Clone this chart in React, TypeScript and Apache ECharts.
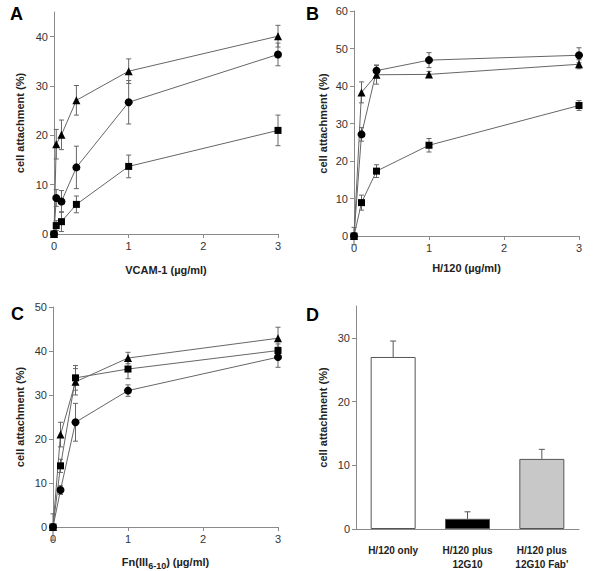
import React, { useEffect, useRef } from "react";
import * as echarts from "echarts";

// Panel A: VCAM-1
const xA = [0, 0.03, 0.1, 0.3, 1, 3];
const aTriangle = [0, 18.2, 20.1, 27.1, 33.0, 40.1];
const aTriangleErr = [0, 3.0, 3.0, 3.0, 2.5, 2.2];
const aCircle = [0, 7.3, 6.6, 13.5, 26.7, 36.4];
const aCircleErr = [0, 1.7, 2.2, 4.3, 4.4, 2.3];
const aSquare = [0, 1.7, 2.5, 6.0, 13.7, 21.0];
const aSquareErr = [0, 1.0, 2.0, 1.7, 2.3, 3.1];

// Panel B: H/120
const xB = [0, 0.1, 0.3, 1, 3];
const bCircle = [0, 27.1, 44.1, 46.9, 48.2];
const bCircleErr = [0, 1.8, 1.5, 2.0, 2.0];
const bTriangle = [0, 38.3, 43.0, 43.1, 45.8];
const bTriangleErr = [2.3, 2.8, 2.5, 0.8, 1.2];
const bSquare = [0, 8.9, 17.3, 24.2, 34.8];
const bSquareErr = [0, 2.0, 1.7, 1.8, 1.3];

// Panel C: Fn(III6-10)
const xC = [0, 0.1, 0.3, 1, 3];
const cTriangle = [0, 21.0, 33.0, 38.4, 42.9];
const cTriangleErr = [3.0, 2.8, 3.0, 1.3, 2.5];
const cSquare = [0, 13.9, 33.9, 35.9, 40.1];
const cSquareErr = [0, 1.5, 2.8, 2.2, 1.5];
const cCircle = [0, 8.4, 23.8, 31.0, 38.6];
const cCircleErr = [0, 1.0, 4.3, 1.3, 2.3];

// Panel D: bars
const dCategories = ["H/120 only", "H/120 plus\n12G10", "H/120 plus\n12G10 Fab'"];
const dValues = [27.0, 1.6, 11.0];
const dErr = [2.5, 1.1, 1.5];
const dColors = ["#ffffff", "#000000", "#c8c8c8"];

const FONT = "Liberation Sans, Arial, sans-serif";
const AXIS_COLOR = "#8a8a8a";
const LABEL_COLOR = "#333";
const ERR_COLOR = "#666";

function zip(xs: number[], ys: number[]) {
  return xs.map((x, i) => [x, ys[i]]);
}
function zip3(xs: number[], ys: number[], es: number[]) {
  return xs.map((x, i) => [x, ys[i], es[i]]);
}

function errRender(params: any, api: any) {
  const x = api.value(0);
  const y = api.value(1);
  const e = api.value(2);
  if (!e || e <= 0) return null;
  const top = api.coord([x, y + e]);
  const bot = api.coord([x, y - e]);
  const w = 2.5;
  const style = { stroke: ERR_COLOR, lineWidth: 1 };
  return {
    type: "group",
    children: [
      { type: "line", shape: { x1: top[0], y1: top[1], x2: bot[0], y2: bot[1] }, style },
      { type: "line", shape: { x1: top[0] - w, y1: top[1], x2: top[0] + w, y2: top[1] }, style },
      { type: "line", shape: { x1: bot[0] - w, y1: bot[1], x2: bot[0] + w, y2: bot[1] }, style },
    ],
  };
}

function barErrRender(params: any, api: any) {
  const x = api.value(0);
  const y = api.value(1);
  const e = api.value(2);
  const top = api.coord([x, y + e]);
  const base = api.coord([x, y]);
  const w = 3;
  const style = { stroke: "#555", lineWidth: 1 };
  return {
    type: "group",
    children: [
      { type: "line", shape: { x1: top[0], y1: top[1], x2: base[0], y2: base[1] }, style },
      { type: "line", shape: { x1: top[0] - w, y1: top[1], x2: top[0] + w, y2: top[1] }, style },
    ],
  };
}

function lineSeries(idx: number, symbol: string, size: number, data: number[][]) {
  return {
    type: "line",
    xAxisIndex: idx,
    yAxisIndex: idx,
    data,
    symbol,
    symbolSize: size,
    showAllSymbol: true,
    lineStyle: { color: "#666", width: 1 },
    itemStyle: { color: "#000" },
    z: 3,
  };
}

function errSeries(idx: number, data: number[][]) {
  return {
    type: "custom",
    xAxisIndex: idx,
    yAxisIndex: idx,
    renderItem: errRender,
    data,
    encode: { x: 0, y: 1 },
    z: 2,
  };
}

function valueX(idx: number, name: any, gap: number) {
  return {
    type: "value",
    gridIndex: idx,
    min: 0,
    max: 3,
    interval: 1,
    name,
    nameLocation: "middle",
    nameGap: gap,
    nameTextStyle: { fontFamily: FONT, fontWeight: "bold", fontSize: 11, color: "#222" },
    axisLine: { show: true, lineStyle: { color: AXIS_COLOR } },
    axisTick: { show: true, length: 4, lineStyle: { color: AXIS_COLOR } },
    axisLabel: { fontFamily: FONT, fontSize: 11, color: LABEL_COLOR, margin: 6 },
    splitLine: { show: false },
  };
}

function valueY(idx: number, max: number, ticks: number[], gap: number) {
  return {
    type: "value",
    gridIndex: idx,
    min: 0,
    max,
    interval: 10,
    name: "cell attachment (%)",
    nameLocation: "middle",
    nameGap: gap,
    nameTextStyle: { fontFamily: FONT, fontWeight: "bold", fontSize: 11, color: "#222" },
    axisLine: { show: true, lineStyle: { color: AXIS_COLOR } },
    axisTick: { show: true, length: 4, lineStyle: { color: AXIS_COLOR }, customValues: ticks },
    axisLabel: { fontFamily: FONT, fontSize: 11, color: LABEL_COLOR, margin: 6, customValues: ticks },
    splitLine: { show: false },
  };
}

export default function App() {
  const ref = useRef<HTMLDivElement>(null);
  useEffect(() => {
    if (!ref.current) return;
    const chart = echarts.init(ref.current, undefined, { renderer: "svg" });
    const panelLetter = (text: string, left: number, top: number) => ({
      type: "text",
      left,
      top,
      style: { text, font: `bold 18px ${FONT}`, fill: "#000" },
    });
    chart.setOption({
      animation: false,
      backgroundColor: "#fff",
      graphic: [
        panelLetter("A", 10, 5),
        panelLetter("B", 306, 5),
        panelLetter("C", 11, 305),
        panelLetter("D", 306, 306),
      ],
      grid: [
        { left: 54, top: 12, width: 224, height: 222 },
        { left: 354, top: 11, width: 225, height: 225 },
        { left: 53, top: 307, width: 225, height: 223 },
        { left: 356, top: 306, width: 223, height: 224 },
      ],
      xAxis: [
        valueX(0, "VCAM-1 (µg/ml)", 30),
        valueX(1, "H/120 (µg/ml)", 26),
        {
          ...valueX(2, "Fn(III{sub|6-10}) (µg/ml)", 27),
          nameTextStyle: {
            fontFamily: FONT,
            fontWeight: "bold",
            fontSize: 11,
            color: "#222",
            rich: {
              sub: { fontFamily: FONT, fontWeight: "bold", fontSize: 9, color: "#222", padding: [7, 0, 0, 0] },
            },
          },
        },
        {
          type: "category",
          gridIndex: 3,
          data: dCategories,
          axisLine: { show: true, lineStyle: { color: AXIS_COLOR } },
          axisTick: { show: false },
          axisLabel: { fontFamily: FONT, fontWeight: "bold", fontSize: 10, color: "#222", margin: 14, lineHeight: 14 },
        },
      ],
      yAxis: [
        valueY(0, 45, [0, 10, 20, 30, 40], 29),
        valueY(1, 60, [0, 10, 20, 30, 40, 50, 60], 26),
        valueY(2, 50, [0, 10, 20, 30, 40, 50], 28),
        valueY(3, 35, [0, 10, 20, 30], 28),
      ],
      series: [
        errSeries(0, zip3(xA, aTriangle, aTriangleErr)),
        errSeries(0, zip3(xA, aCircle, aCircleErr)),
        errSeries(0, zip3(xA, aSquare, aSquareErr)),
        lineSeries(0, "triangle", 8, zip(xA, aTriangle)),
        lineSeries(0, "circle", 8, zip(xA, aCircle)),
        lineSeries(0, "rect", 7, zip(xA, aSquare)),

        errSeries(1, zip3(xB, bTriangle, bTriangleErr)),
        errSeries(1, zip3(xB, bCircle, bCircleErr)),
        errSeries(1, zip3(xB, bSquare, bSquareErr)),
        lineSeries(1, "triangle", 8, zip(xB, bTriangle)),
        lineSeries(1, "circle", 8, zip(xB, bCircle)),
        lineSeries(1, "rect", 7, zip(xB, bSquare)),

        errSeries(2, zip3(xC, cTriangle, cTriangleErr)),
        errSeries(2, zip3(xC, cSquare, cSquareErr)),
        errSeries(2, zip3(xC, cCircle, cCircleErr)),
        lineSeries(2, "triangle", 8, zip(xC, cTriangle)),
        lineSeries(2, "rect", 7, zip(xC, cSquare)),
        lineSeries(2, "circle", 8, zip(xC, cCircle)),

        {
          type: "bar",
          xAxisIndex: 3,
          yAxisIndex: 3,
          barWidth: 45,
          data: dValues.map((v, i) => ({
            value: v,
            itemStyle: { color: dColors[i], borderColor: "#555", borderWidth: 1 },
          })),
          z: 2,
        },
        {
          type: "custom",
          xAxisIndex: 3,
          yAxisIndex: 3,
          renderItem: barErrRender,
          data: dValues.map((v, i) => [i, v, dErr[i]]),
          encode: { x: 0, y: 1 },
          z: 3,
        },
      ],
    });
    return () => chart.dispose();
  }, []);
  return (
    <div
      ref={ref}
      style={{ position: "fixed", left: 0, top: 0, width: 600, height: 571, background: "#fff" }}
    />
  );
}
